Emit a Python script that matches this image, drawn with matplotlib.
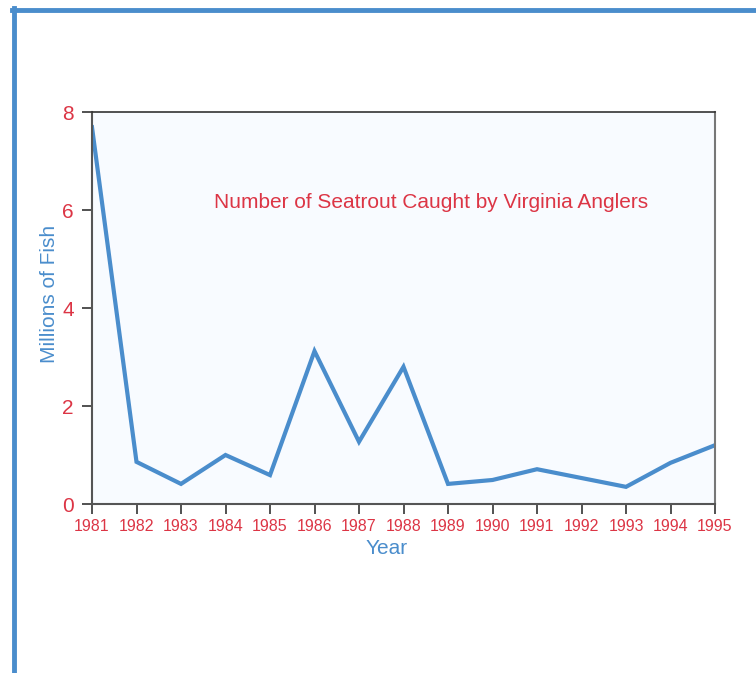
import matplotlib
matplotlib.use("Agg")
import matplotlib.pyplot as plt
from matplotlib.lines import Line2D

plt.rcParams['font.family'] = ['Liberation Sans', 'DejaVu Sans']

years = [1981, 1982, 1983, 1984, 1985, 1986, 1987, 1988, 1989, 1990, 1991, 1992, 1993, 1994, 1995]
fish_millions = [7.69, 0.86, 0.41, 1.0, 0.59, 3.12, 1.27, 2.8, 0.41, 0.49, 0.71, 0.53, 0.35, 0.84, 1.2]
yticks = [0, 2, 4, 6, 8]

BLUE = '#4a8dcc'
RED = '#dc3545'

W, H = 756, 673
fig = plt.figure(figsize=(W / 100, H / 100), dpi=100)
ax = fig.add_axes([92 / W, 1 - 504 / H, (715 - 92) / W, (504 - 112) / H])
ax.set_facecolor('#f8fbff')

ax.plot(years, fish_millions, color=BLUE, lw=3, solid_joinstyle='miter')
ax.set_xlim(1981, 1995)
ax.set_ylim(0, 8)
ax.set_xticks(years)
ax.set_xticklabels([str(y) for y in years], color=RED, fontsize=11.5)
ax.set_yticks(yticks)
ax.set_yticklabels([str(v) for v in yticks], color=RED, fontsize=15)
ax.tick_params(axis='both', direction='out', length=7, width=1.2, color='#333333')
ax.tick_params(axis='y', pad=6)
ax.tick_params(axis='x', pad=4)

for s in ['left', 'bottom']:
    ax.spines[s].set_color('#555555')
    ax.spines[s].set_linewidth(1.5)
ax.spines['top'].set_color('#333333')
ax.spines['top'].set_linewidth(1.2)
ax.spines['right'].set_color('#777777')
ax.spines['right'].set_linewidth(1.5)

ax.set_xlabel('Year', color=BLUE, fontsize=15)
ax.set_ylabel('Millions of Fish', color=BLUE, fontsize=15)
ax.xaxis.set_label_coords(0.473, -0.114)
ax.yaxis.set_label_coords(-0.068, 0.536)
ax.xaxis.label.set_verticalalignment('center')
ax.yaxis.label.set_verticalalignment('center')

ax.text(0.544, 0.77, 'Number of Seatrout Caught by Virginia Anglers', transform=ax.transAxes,
        ha='center', va='center', color=RED, fontsize=15)

# outer frame (left and top edges)
fig.add_artist(Line2D([14 / W, 14 / W], [0, 1 - 8 / H], transform=fig.transFigure, color=BLUE, lw=3.5))
fig.add_artist(Line2D([12 / W, 1], [1 - 10 / H, 1 - 10 / H], transform=fig.transFigure, color=BLUE, lw=3.5))

fig.savefig('out.png', dpi=100)
